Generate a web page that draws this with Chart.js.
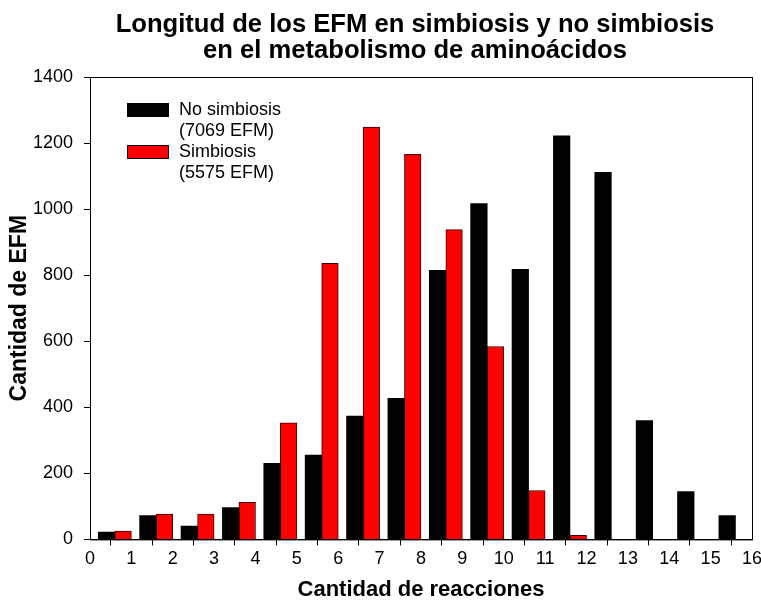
<!DOCTYPE html>
<html>
<head>
<meta charset="utf-8">
<script src="https://cdn.jsdelivr.net/npm/chart.js@4"></script>
<style>
  body { margin: 0; background: #fff; }
</style>
</head>
<body>
<canvas id="chart" width="761" height="601"></canvas>
<script>
// reaction counts (left edge of each bar pair)
const lengths = [0, 1, 2, 3, 4, 5, 6, 7, 8, 9, 10, 11, 12, 13, 14, 15];
const noSimbiosis = [22, 72, 40, 96, 230, 255, 373, 427, 815, 1017, 818, 1222, 1111, 360, 145, 72];
const simbiosis = [25, 77, 77, 112, 353, 836, 1248, 1166, 938, 584, 148, 12, 0, 0, 0, 0];
const seriesLabels = [['No simbiosis', '(7069 EFM)'], ['Simbiosis', '(5575 EFM)']];
const titleLines = ['Longitud de los EFM en simbiosis y no simbiosis', 'en el metabolismo de aminoácidos'];

const fontFamily = 'Arial, "Liberation Sans", sans-serif';

// black bar sits at k+0.2..k+0.6, red at k+0.6..k+1.0
const blackPts = lengths.map((k, i) => ({ x: k + 0.4, y: noSimbiosis[i] }));
const redPts = lengths.map((k, i) => ({ x: k + 0.8, y: simbiosis[i] })).filter(p => p.y > 0);

// frame, title (centred over the plot) and the legend inside the plot
const boxAndLegend = {
    id: 'boxAndLegend',
    afterDraw(chart) {
        const ctx = chart.ctx;
        const a = chart.chartArea;
        ctx.save();
        ctx.strokeStyle = '#000';
        ctx.lineWidth = 1;
        ctx.strokeRect(a.left + 0.5, a.top + 0.5, a.right - a.left, a.bottom - a.top);

        ctx.fillStyle = '#000';
        ctx.font = 'bold 25.6px ' + fontFamily;
        ctx.textAlign = 'center';
        ctx.textBaseline = 'alphabetic';
        const cx = (a.left + a.right) / 2 - 6;
        titleLines.forEach((line, i) => ctx.fillText(line, cx, 32 + i * 26));

        ctx.font = '18px ' + fontFamily;
        ctx.textBaseline = 'middle';
        ctx.textAlign = 'left';
        chart.data.datasets.forEach((ds, i) => {
            const top = a.top + 26 + i * 42;
            ctx.fillStyle = ds.backgroundColor;
            ctx.fillRect(a.left + 37, top, 42, 14);
            ctx.strokeStyle = '#000';
            ctx.strokeRect(a.left + 37.5, top + 0.5, 41, 13);
            ctx.fillStyle = '#000';
            ds.label.forEach((line, j) => {
                ctx.fillText(line, a.left + 89, top + 7 + j * 21);
            });
        });
        ctx.restore();
    }
};

new Chart(document.getElementById('chart'), {
    type: 'bar',
    data: {
        datasets: [{
            label: seriesLabels[0],
            data: blackPts,
            backgroundColor: '#000000',
            borderWidth: 0
        }, {
            label: seriesLabels[1],
            data: redPts,
            backgroundColor: '#ff0000',
            borderColor: '#3a0000',
            borderWidth: 1
        }]
    },
    options: {
        responsive: false,
        animation: false,
        grouped: false,
        categoryPercentage: 1,
        barPercentage: 1,
        layout: { padding: { left: 0, right: 0, top: 77, bottom: 0 } },
        plugins: {
            legend: { display: false },
            tooltip: { enabled: false },
            title: { display: false }
        },
        scales: {
            x: {
                type: 'linear',
                min: 0,
                max: 16,
                offset: false,
                afterFit(scale) { scale.paddingRight = 9; },
                grid: { drawOnChartArea: false, drawTicks: true, tickLength: 6, color: '#000' },
                border: { display: true, color: '#000' },
                ticks: { stepSize: 1, color: '#000', font: { family: fontFamily, size: 18 }, padding: 3, maxRotation: 0 },
                title: {
                    display: true,
                    text: 'Cantidad de reacciones',
                    color: '#000',
                    font: { family: fontFamily, size: 22, weight: 'bold', lineHeight: 1 },
                    padding: { top: 6, bottom: 0 }
                }
            },
            y: {
                min: 0,
                max: 1400,
                afterFit(scale) { scale.width = 90; },
                grid: { drawOnChartArea: false, drawTicks: true, tickLength: 6, color: '#000' },
                border: { display: true, color: '#000' },
                ticks: { stepSize: 200, color: '#000', font: { family: fontFamily, size: 18 }, padding: 11, callback: v => String(v) },
                title: {
                    display: true,
                    text: 'Cantidad de EFM',
                    color: '#000',
                    font: { family: fontFamily, size: 23, weight: 'bold', lineHeight: 1 },
                    padding: { top: 8, bottom: 0 }
                }
            }
        }
    },
    plugins: [boxAndLegend]
});
</script>
</body>
</html>
